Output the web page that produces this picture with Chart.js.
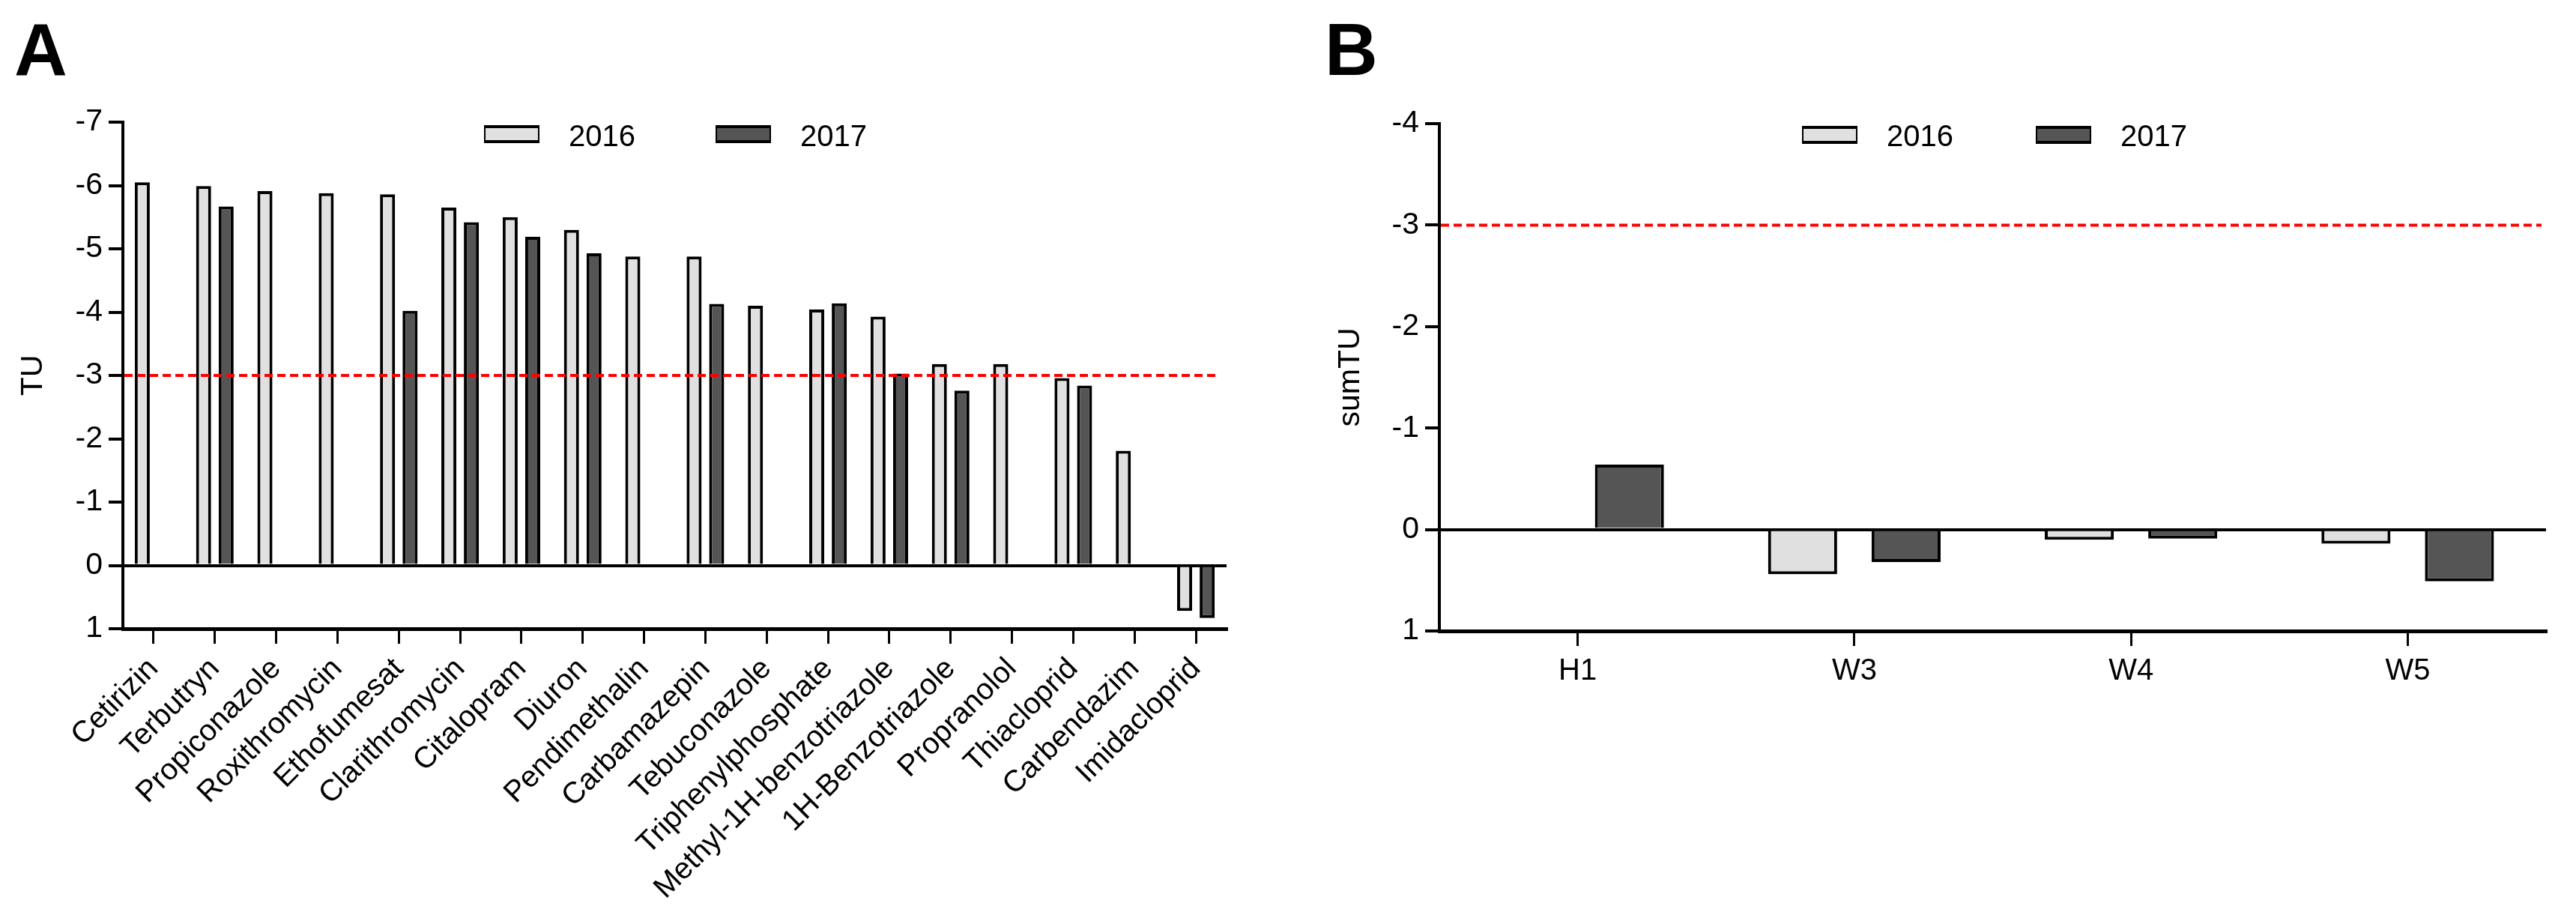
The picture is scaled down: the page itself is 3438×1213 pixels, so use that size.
<!DOCTYPE html>
<html lang="en">
  <head>
    <meta charset="utf-8" />
    <title>TU per compound and sumTU per site</title>
    <style>
      * {
        margin: 0;
        padding: 0;
      }
      body {
        width: 3438px;
        height: 1213px;
        background: white;
        overflow: hidden;
        position: relative;
        font-family: "Liberation Sans", Arial, sans-serif;
      }
      .panel {
        position: absolute;
        top: 0;
        height: 1213px;
      }
      .letter {
        position: absolute;
        font-size: 98px;
        font-weight: bold;
        line-height: 1;
        color: #000;
      }
    </style>
  </head>
  <body>
    <div class="letter" style="left: 19px; top: 17px">A</div>
    <div class="letter" style="left: 1768px; top: 17px">B</div>

    <div class="panel" style="left: 0; width: 1700px">
      <canvas id="chartA"></canvas>
    </div>
    <div class="panel" style="left: 1700px; width: 1738px">
      <canvas id="chartB"></canvas>
    </div>

    <script src="https://cdn.jsdelivr.net/npm/chart.js"></script>
    <script>
      // panel A: toxic units per compound
      const compounds = [
        "Cetirizin",
        "Terbutryn",
        "Propiconazole",
        "Roxithromycin",
        "Ethofumesat",
        "Clarithromycin",
        "Citalopram",
        "Diuron",
        "Pendimethalin",
        "Carbamazepin",
        "Tebuconazole",
        "Triphenylphosphate",
        "Methyl-1H-benzotriazole",
        "1H-Benzotriazole",
        "Propranolol",
        "Thiacloprid",
        "Carbendazim",
        "Imidacloprid",
      ];
      const tu2016 = [
        -6.05, -5.99, -5.91, -5.88, -5.86, -5.65, -5.5, -5.3, -4.88, -4.88,
        -4.1, -4.04, -3.93, -3.18, -3.18, -2.96, -1.81, 0.72,
      ];
      const tu2017 = [
        null, -5.67, null, null, -4.02, -5.42, -5.19, -4.93, null, -4.13,
        null, -4.14, -3.03, -2.76, null, -2.84, null, 0.83,
      ];

      // panel B: summed toxic units per site
      const sites = ["H1", "W3", "W4", "W5"];
      const sum2016 = [null, 0.44, 0.1, 0.14];
      const sum2017 = [-0.64, 0.32, 0.09, 0.51];

      const years = ["2016", "2017"];
      const threshold = -3;

      const FONT = "'Liberation Sans', Arial, sans-serif";
      Chart.defaults.font.family = FONT;
      Chart.defaults.font.size = 41;
      Chart.defaults.color = "#000";

      // red dashed line at TU = -3
      const thresholdLine = {
        id: "thresholdLine",
        afterDatasetsDraw(chart, args, opts) {
          const { ctx, chartArea } = chart;
          const y = chart.scales.y.getPixelForValue(opts.value);
          ctx.save();
          ctx.strokeStyle = "#ff0000";
          ctx.lineWidth = 4;
          ctx.setLineDash([11, 6]);
          ctx.beginPath();
          ctx.moveTo(chartArea.left + 2, y);
          ctx.lineTo(chartArea.right - opts.endGap, y);
          ctx.stroke();
          ctx.restore();
        },
      };

      // legend drawn inside the plot, like the original figure
      const boxLegend = {
        id: "boxLegend",
        afterDraw(chart, args, opts) {
          const ctx = chart.ctx;
          ctx.save();
          chart.data.datasets.forEach((ds, i) => {
            const x = opts.x[i];
            const y = opts.y;
            ctx.fillStyle = ds.backgroundColor;
            ctx.fillRect(x, y, opts.w, opts.h);
            ctx.strokeStyle = "#000";
            ctx.lineWidth = 2;
            ctx.strokeRect(x, y, opts.w, opts.h);
            ctx.lineWidth = 4;
            ctx.beginPath();
            ctx.moveTo(x - 1, y);
            ctx.lineTo(x + opts.w + 1, y);
            ctx.moveTo(x - 1, y + opts.h);
            ctx.lineTo(x + opts.w + 1, y + opts.h);
            ctx.stroke();
            ctx.fillStyle = "#000";
            ctx.font = "40px " + FONT;
            ctx.textBaseline = "alphabetic";
            ctx.fillText(ds.label, x + opts.w + opts.gap, opts.baseline);
          });
          ctx.restore();
        },
      };

      function yScale(min, title, width, titlePad) {
        return {
          reverse: true,
          min: min,
          max: 1,
          ticks: { stepSize: 1, padding: 8, font: { size: 41 } },
          grid: {
            drawOnChartArea: true,
            color: (c) => (c.tick && c.tick.value === 0 ? "#000" : "rgba(0,0,0,0)"),
            tickColor: "#000",
            lineWidth: 4,
            tickWidth: 4,
            tickLength: 19,
          },
          border: { display: true, color: "#000", width: 4 },
          title: {
            display: true,
            text: title,
            font: { size: 41 },
            padding: { top: titlePad, bottom: 0 },
          },
          afterFit(scale) {
            scale.width = width;
          },
        };
      }

      function xScale(height, rotation, padding) {
        return {
          offset: true,
          ticks: {
            autoSkip: false,
            minRotation: rotation,
            maxRotation: rotation,
            padding: padding,
            font: { size: 40 },
          },
          grid: {
            drawOnChartArea: false,
            offset: false,
            color: "#000",
            lineWidth: 3,
            tickLength: 20,
          },
          border: { display: true, color: "#000", width: 5 },
          afterFit(scale) {
            scale.height = height;
          },
        };
      }

      function barSet(label, values, color, catPct) {
        return {
          label: label,
          data: values,
          backgroundColor: color,
          borderColor: "#000",
          borderWidth: 4,
          borderSkipped: "start",
          categoryPercentage: catPct,
          barPercentage: 0.667,
        };
      }

      const configA = {
        type: "bar",
        data: {
          labels: compounds,
          datasets: [
            barSet(years[0], tu2016, "#e0e0e0", 0.735),
            barSet(years[1], tu2017, "#555555", 0.735),
          ],
        },
        options: {
          responsive: true,
          maintainAspectRatio: false,
          animation: false,
          layout: { padding: { top: 163, right: 63, left: 0, bottom: 0 } },
          scales: {
            x: xScale(374, 45, 10),
            y: yScale(-7, "TU", 164, 20),
          },
          plugins: {
            legend: { display: false },
            tooltip: { enabled: false },
            thresholdLine: { value: threshold, endGap: 10 },
            boxLegend: { x: [647, 956], y: 169, w: 72, h: 20, gap: 40, baseline: 195 },
          },
        },
        plugins: [thresholdLine, boxLegend],
      };

      const configB = {
        type: "bar",
        data: {
          labels: sites,
          datasets: [
            barSet(years[0], sum2016, "#e0e0e0", 0.748),
            barSet(years[1], sum2017, "#555555", 0.748),
          ],
        },
        options: {
          responsive: true,
          maintainAspectRatio: false,
          animation: false,
          layout: { padding: { top: 165, right: 40, left: 0, bottom: 0 } },
          scales: {
            x: xScale(371, 0, 10),
            y: yScale(-4, "sumTU", 221, 78),
          },
          plugins: {
            legend: { display: false },
            tooltip: { enabled: false },
            thresholdLine: { value: threshold, endGap: 6 },
            boxLegend: { x: [706, 1018], y: 170, w: 72, h: 20, gap: 40, baseline: 195 },
          },
        },
        plugins: [thresholdLine, boxLegend],
      };

      const chartA = new Chart(document.getElementById("chartA"), configA);
      const chartB = new Chart(document.getElementById("chartB"), configB);
    </script>
  </body>
</html>
